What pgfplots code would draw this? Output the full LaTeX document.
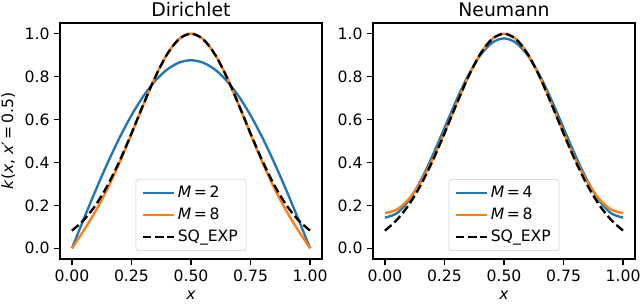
\documentclass[border=0pt]{standalone}
\usepackage{fontspec}
\setmainfont{DejaVu Sans}
\usepackage{pgfplots}
\pgfplotsset{compat=1.18}
\usepackage{pgfplotstable}

\definecolor{C0}{HTML}{1F77B4}
\definecolor{C1}{HTML}{FF7F0E}

\pgfplotstableread{
x    sq     d2     d8     n4     n8
0.00 0.0821 0.0000 0.0000 0.1427 0.1641
0.05 0.1320 0.1371 0.0835 0.1631 0.1805
0.10 0.2019 0.2708 0.1747 0.2225 0.2292
0.15 0.2938 0.3978 0.2793 0.3149 0.3084
0.20 0.4066 0.5151 0.3994 0.4314 0.4140
0.25 0.5353 0.6196 0.5319 0.5605 0.5389
0.30 0.6703 0.7089 0.6689 0.6896 0.6720
0.35 0.7985 0.7808 0.7982 0.8061 0.7992
0.40 0.9048 0.8334 0.9049 0.8985 0.9052
0.45 0.9753 0.8655 0.9756 0.9579 0.9755
0.50 1.0000 0.8763 1.0004 0.9783 1.0001
0.55 0.9753 0.8655 0.9756 0.9579 0.9755
0.60 0.9048 0.8334 0.9049 0.8985 0.9052
0.65 0.7985 0.7808 0.7982 0.8061 0.7992
0.70 0.6703 0.7089 0.6689 0.6896 0.6720
0.75 0.5353 0.6196 0.5319 0.5605 0.5389
0.80 0.4066 0.5151 0.3994 0.4314 0.4140
0.85 0.2938 0.3978 0.2793 0.3149 0.3084
0.90 0.2019 0.2708 0.1747 0.2225 0.2292
0.95 0.1320 0.1371 0.0835 0.1631 0.1805
1.00 0.0821 0.0000 0.0000 0.1427 0.1641
}\data

\pgfplotsset{kstyle/.style={
  scale only axis, width=2.62in, height=2.36in,
  xmin=-0.05, xmax=1.05, ymin=-0.05, ymax=1.05,
  xtick={0,0.25,0.5,0.75,1},
  ytick={0,0.2,0.4,0.6,0.8,1},
  xticklabel style={/pgf/number format/.cd, fixed, fixed zerofill, precision=2},
  yticklabel style={/pgf/number format/.cd, fixed, fixed zerofill, precision=1},
  /pgf/number format/assume math mode=true,
  tick align=outside, major tick length=4pt,
  tick style={black, line width=0.9pt},
  xtick pos=lower, ytick pos=left,
  axis line style={line width=0.9pt},
  tick label style={font=\fontsize{11.3}{13.5}\selectfont},
  label style={font=\fontsize{11.3}{13.5}\selectfont},
  every axis title shift=0pt,
  title style={font=\fontsize{13.6}{16}\selectfont, at={(axis description cs:0.5,1)}, anchor=base, yshift=4.7pt},
  xlabel={\textit{x}},
  xlabel style={at={(axis description cs:0.5,0)}, anchor=base, yshift=-29pt},
  legend style={at={(0.5,0.034)}, anchor=south, draw=black!20, rounded corners=2pt,
    fill=white, fill opacity=0.8, text opacity=1, font=\fontsize{11.3}{13.5}\selectfont,
    inner xsep=4pt, inner ysep=3pt, row sep=2pt},
  legend cell align=left,
  legend image code/.code={\draw[#1] (0pt,0pt) -- (22.6pt,0pt);},
  every axis plot/.append style={line width=1.7pt, no markers, smooth},
}}

\begin{document}
\begin{tikzpicture}
\useasboundingbox (0,0) rectangle (6.4in,3.04in);
\begin{axis}[kstyle, at={(0.60in,0.45in)}, anchor=south west,
  title={Dirichlet},
  ylabel={\textit{k}(\textit{x}, \textit{x}′\,=\,0.5)}]
\addplot[C0] table[x=x, y=d2] {\data};
\addlegendentry{\textit{M}\,=\,2}
\addplot[C1] table[x=x, y=d8] {\data};
\addlegendentry{\textit{M}\,=\,8}
\addplot[black, dash pattern=on 6.3pt off 2.7pt] table[x=x, y=sq] {\data};
\addlegendentry{SQ\_EXP}
\end{axis}
\begin{axis}[kstyle, at={(3.73in,0.45in)}, anchor=south west,
  title={Neumann}]
\addplot[C0] table[x=x, y=n4] {\data};
\addlegendentry{\textit{M}\,=\,4}
\addplot[C1] table[x=x, y=n8] {\data};
\addlegendentry{\textit{M}\,=\,8}
\addplot[black, dash pattern=on 6.3pt off 2.7pt] table[x=x, y=sq] {\data};
\addlegendentry{SQ\_EXP}
\end{axis}
\end{tikzpicture}
\end{document}
